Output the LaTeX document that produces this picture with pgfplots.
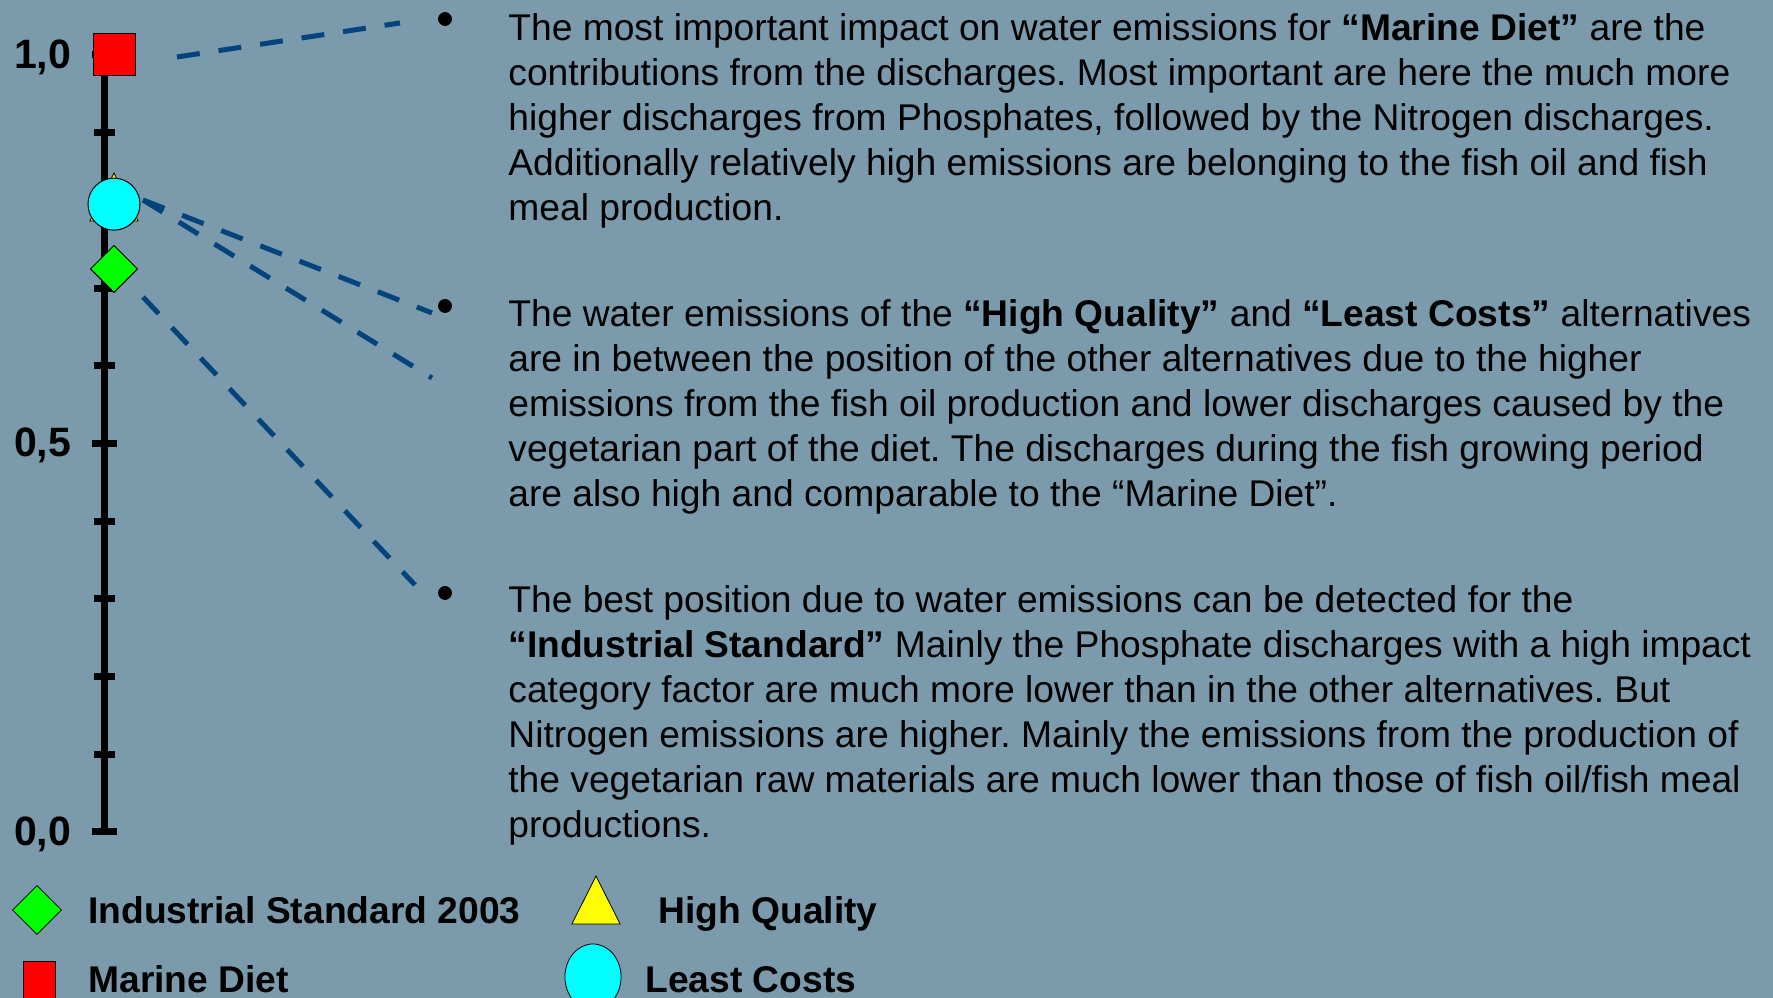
\documentclass[border=0pt]{standalone}
\usepackage{pgfplots}
\pgfplotsset{compat=1.18}
\usepackage{fontspec}
\setmainfont{Liberation Sans}
\frenchspacing
\definecolor{bgcol}{RGB}{123,154,171}
\definecolor{linecol}{RGB}{4,68,124}
\definecolor{mkcyan}{RGB}{0,255,255}
\definecolor{mkyellow}{RGB}{255,255,0}
\definecolor{mkgreen}{RGB}{0,255,0}
\definecolor{mkred}{RGB}{255,0,0}
\begin{document}
\begin{tikzpicture}
\begin{axis}[
  set layers,
  x=0.5pt, y=388.5pt,
  xmin=0, xmax=1669, ymin=0, ymax=1,
  clip=false,
  axis x line=none,
  axis y line*=left,
  axis line style={line width=3.5pt, black},
  ytick={0,0.5,1},
  yticklabels={{0,0},{0,5},{1,0}},
  minor ytick={0.1,0.2,0.3,0.4,0.6,0.7,0.8,0.9},
  tick align=center,
  major tick length=12.5pt,
  minor tick length=10.5pt,
  every tick/.style={black, line width=3.5pt},
  yticklabel style={font=\bfseries\fontsize{20.5}{20.5}\selectfont, anchor=east, inner sep=0pt, xshift=-10pt, yshift=-1pt},
]
\begin{pgfonlayer}{axis background}
\fill[bgcol] (axis cs:-104,-0.21364) rectangle (axis cs:1669,1.07078);
\end{pgfonlayer}
\coordinate (bl) at (axis cs:-104,-0.21364);
\coordinate (tr) at (axis cs:1669,1.07078);

% dashed connector lines
\addplot[linecol, line width=2.5pt, dash pattern=on 11.5pt off 9.5pt] coordinates {(73,0.9974) (296,1.0412)};
\addplot[linecol, line width=2.5pt, dash pattern=on 11.5pt off 9.5pt] coordinates {(39,0.8134) (328,0.6680)};
\addplot[linecol, line width=2.5pt, dash pattern=on 11.5pt off 9.5pt] coordinates {(39,0.8134) (328,0.5843)};
\addplot[linecol, line width=2.5pt, dash pattern=on 11.5pt off 9.5pt] coordinates {(39,0.6885) (311,0.3179)};

% bullets
\addplot[only marks, mark=*, mark size=3.25pt, black] coordinates {(341,1.0463) (341,0.6770) (341,0.3076)};

% markers on the scale
\addplot[only marks, mark=square*, mark size=10.5pt, mark options={fill=mkred, draw=black, line width=0.5pt}] coordinates {(10,1.0)};
\addplot[only marks, mark=triangle*, mark size=16pt, mark options={xscale=0.87, fill=mkyellow, draw=black, line width=0.4pt}] coordinates {(10,0.807)};
\addplot[only marks, mark=*, mark size=13pt, mark options={fill=mkcyan, draw=black, line width=0.5pt}] coordinates {(10,0.808)};
\addplot[only marks, mark=square*, mark size=8.3pt, mark options={rotate=45, fill=mkgreen, draw=black, line width=0.5pt}] coordinates {(10,0.7246)};

% legend markers
\addplot[only marks, mark=square*, mark size=8.6pt, mark options={rotate=45, fill=mkgreen, draw=none}] coordinates {(-67,-0.1004)};
\addplot[only marks, mark=square*, mark size=10pt, mark options={xscale=0.8, fill=mkred, draw=none}] coordinates {(-65,-0.1918)};
\addplot[only marks, mark=triangle*, mark size=16pt, mark options={xscale=0.87, fill=mkyellow, draw=none}] coordinates {(492,-0.0978)};
\addplot[only marks, mark=*, mark size=16.5pt, mark options={xscale=0.85, fill=mkcyan, draw=none}] coordinates {(489,-0.1866)};

% legend texts
\begin{scope}[every node/.style={anchor=base west, inner sep=0pt, font=\bfseries\fontsize{18.6}{22.5}\selectfont}]
\node at (axis cs:-16,-0.1178) {Industrial Standard 2003};
\node at (axis cs:554,-0.1178) {High Quality};
\node at (axis cs:-16,-0.2066) {Marine Diet};
\node at (axis cs:541,-0.2066) {Least Costs};
\end{scope}

% paragraphs (base anchor = baseline of last line)
\begin{scope}[every node/.style={anchor=base west, inner sep=0pt, align=left, font=\fontsize{18.6}{22.5}\selectfont}]
\node at (axis cs:404,0.7876) {The most important impact on water emissions for \textbf{“Marine Diet”} are the\\
contributions from the discharges. Most important are here the much more\\
higher discharges from Phosphates, followed by the Nitrogen discharges.\\
Additionally relatively high emissions are belonging to the fish oil and fish\\
meal production.};
\node at (axis cs:404,0.4183) {The water emissions of the \textbf{“High Quality”} and \textbf{“Least Costs”} alternatives\\
are in between the position of the other alternatives due to the higher\\
emissions from the fish oil production and lower discharges caused by the\\
vegetarian part of the diet. The discharges during the fish growing period\\
are also high and comparable to the “Marine Diet”.};
\node at (axis cs:404,-0.0077) {The best position due to water emissions can be detected for the\\
\textbf{“Industrial Standard”} Mainly the Phosphate discharges with a high impact\\
category factor are much more lower than in the other alternatives. But\\
Nitrogen emissions are higher. Mainly the emissions from the production of\\
the vegetarian raw materials are much lower than those of fish oil/fish meal\\
productions.};
\end{scope}
\end{axis}
\pgfresetboundingbox
\useasboundingbox (bl) rectangle (tr);
\end{tikzpicture}
\end{document}
